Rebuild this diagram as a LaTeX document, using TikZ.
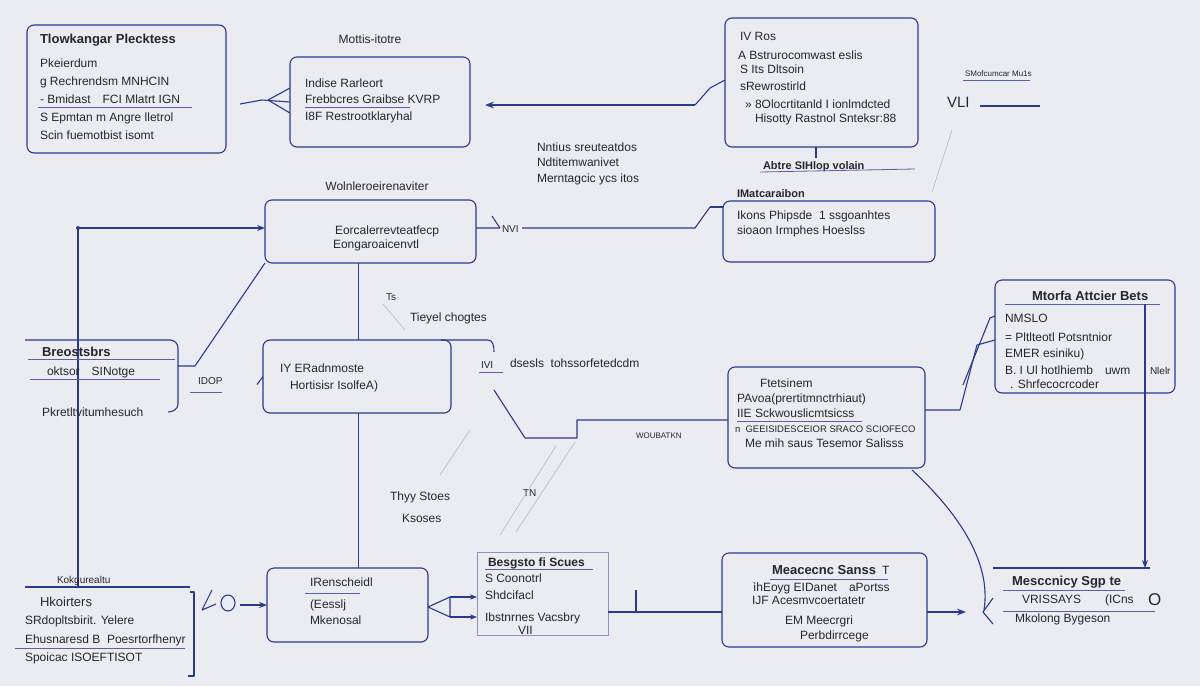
\documentclass[tikz,border=0pt]{standalone}
\usepackage{fontspec}
\setmainfont{Liberation Sans}
\usetikzlibrary{arrows.meta}
\definecolor{drawColor}{RGB}{42,58,140}
\definecolor{textColor}{RGB}{38,38,46}
\definecolor{paperColor}{RGB}{234,236,241}
\tikzset{
  box/.style={draw=drawColor,line width=1.1pt,rounded corners=7pt,inner sep=0pt,outer sep=0pt},
  sqbox/.style={draw=drawColor!55,line width=0.8pt,inner sep=0pt,outer sep=0pt},
  txt/.style={text=textColor,anchor=base west,inner sep=0pt,outer sep=0pt,font=\fontsize{12}{14}\selectfont},
  ctxt/.style={txt,anchor=base},
  small/.style={txt,font=\fontsize{10}{12}\selectfont},
  ttl/.style={txt,font=\bfseries\fontsize{13}{15}\selectfont},
  wire/.style={draw=drawColor,line width=1.1pt,line join=round},
  rule/.style={draw=drawColor!80,line width=0.8pt},
  faint/.style={draw=gray!55,line width=0.6pt},
}
\begin{document}
\begin{tikzpicture}[x=1pt,y=-1pt]
\path[use as bounding box,fill=paperColor] (0,0) rectangle (1200,686);

\node[box,minimum width=199pt,minimum height=128pt] (tlowBox) at (126.5,89) {};
\node[ttl] (tlowT) at (40,43) {Tlowkangar Plecktess};
\node[txt] (tlow1) at (40,67) {Pkeierdum};
\node[txt] (tlow2) at (40,85) {g Rechrendsm MNHCIN};
\node[txt] (tlow3) at (40,103) {- Bmidast\quad FCI Mlatrt IGN};
\node[txt] (tlow4) at (40,121) {S Epmtan m Angre lletrol};
\node[txt] (tlow5) at (40,139) {Scin fuemotbist isomt};
\path[rule] (38,107) -- (192,107);

\node[box,minimum width=180pt,minimum height=90pt] (mottBox) at (380,102) {};
\node[ctxt] (mottL) at (370,43) {Mottis-itotre};
\node[txt] (mott1) at (305,87) {Indise Rarleort};
\node[txt] (mott2) at (305,103) {Frebbcres Graibse KVRP};
\node[txt] (mott3) at (305,120) {I8F Restrootklaryhal};
\path[rule] (305,107) -- (410,107);
\coordinate (mottIn) at (240,104);
\path[wire] (mottIn) -- (262,100) -- (mottBox.west);
\path[wire] (268,100) -- (290,88) (268,100) -- (290,113);

\node[box,minimum width=193pt,minimum height=129pt] (absBox) at (821.5,82.5) {};
\node[txt] (abs1) at (740,40) {IV Ros};
\node[txt] (abs2) at (738,59) {A Bstrurocomwast eslis};
\node[txt] (abs3) at (740,73) {S Its Dltsoin};
\node[txt] (abs4) at (740,90) {sRewrostirld};
\node[txt] (abs5) at (745,108) {» 8Olocrtitanld I ionlmdcted};
\node[txt] (abs6) at (755,122) {Hisotty Rastnol Snteksr:88};
\node[ttl,font=\bfseries\fontsize{11}{13}\selectfont] (absL) at (763,169) {Abtre SIHlop volain};
\path[wire] (816,147) -- (816,158);
\path[rule] (760,172) -- (915,169);
\coordinate (absIn) at (695,105);
\coordinate (mottTip) at (485,105);
\path[wire,-{Stealth[length=9pt]}] (absIn) -- (mottTip);
\path[wire] (absIn) -- (710,88) -- (absBox.west |- 0,80);

\node[small,font=\fontsize{8}{10}\selectfont] (smof) at (965,76) {SMofcumcar Mu1s};
\path[rule] (963,80) -- (1030,80);
\node[txt,font=\fontsize{15}{17}\selectfont] (vli) at (947,107) {VLI};
\path[wire] (980,106) -- (1040,106);
\path[faint] (952,130) -- (932,192);

\node[txt] (nnt1) at (537,151) {Nntius sreuteatdos};
\node[txt] (nnt2) at (537,166) {Ndtitemwanivet};
\node[txt] (nnt3) at (537,182) {Merntagcic ycs itos};

\node[box,minimum width=211pt,minimum height=63pt] (wolnBox) at (370.5,231.5) {};
\node[ctxt] (wolnL) at (377,190) {Wolnleroeirenaviter};
\node[txt] (woln1) at (335,234) {Eorcalerrevteatfecp};
\node[txt] (woln2) at (333,248) {Eongaroaicenvtl};
\node[small] (nvi) at (502,232) {NVI};
\coordinate (wolnOut) at (695,228);
\path[wire] (wolnBox.east |- wolnOut) -- (500,228) (522,228) -- (wolnOut) -- (710,207);
\path[wire] (492,216) -- (500,228);

\node[box,minimum width=212pt,minimum height=61pt] (matcBox) at (829,231.5) {};
\node[ttl,font=\bfseries\fontsize{11}{13}\selectfont] (matcT) at (737,197) {IMatcaraibon};
\node[txt] (matc1) at (737,219) {Ikons Phipsde\ \ 1 ssgoanhtes};
\node[txt] (matc2) at (737,234) {sioaon Irmphes Hoeslss};
\path[wire] (710,207) -- (matcBox.west |- 0,207);

\coordinate (leftTop) at (78,228);
\coordinate (leftBot) at (78,588);
\path[wire,-{Stealth[length=8pt]}] (leftBot) -- (leftTop) -- (wolnBox.west |- leftTop);
\fill[drawColor] (leftTop) circle (2pt);

\node[ttl] (breoT) at (42,356) {Breostsbrs};
\node[txt] (breo1) at (47,375) {oktsor\quad SINotge};
\node[txt] (breo2) at (42,416) {Pkretltvitumhesuch};
\path[wire] (25,340) -- (170,340) to[out=0,in=90] (178,348) -- (178,404) to[out=-90,in=0] (168,412);
\path[rule] (28,359) -- (175,359);
\path[rule] (30,379) -- (160,379);
\coordinate (breoOut) at (195,366);
\path[wire] (178,366) -- (breoOut) -- (wolnBox.south west) ++(2,-6);
\node[small] (idop) at (198,384) {IDOP};
\path[rule] (190,392) -- (222,392);

\node[box,minimum width=188pt,minimum height=73pt] (radnBox) at (357,376.5) {};
\node[txt] (radn1) at (280,372) {IY ERadnmoste};
\node[txt] (radn2) at (290,389) {Hortisisr IsolfeA)};
\path[wire] (radnBox.north east) ++(-10,0) -- (488,340) to[out=0,in=90] (494,352);
\node[small] (ivi) at (481,368) {IVI};
\path[rule] (479,372) -- (503,372);
\node[txt] (dses) at (510,367) {dsesls\ \ tohssorfetedcdm};
\node[txt] (tiey) at (410,321) {Tieyel chogtes};
\node[small] (ts) at (386,300) {Ts};
\path[faint] (383,304) -- (405,330);
\path[wire] (radnBox.west) ++(-6,8) -- (radnBox.west);

\path[wire] (wolnBox.south) ++(-12,0) -- (radnBox.north -| 358.5,0);
\path[wire] (358.5,413) -- (358.5,568);

\node[box,minimum width=197pt,minimum height=101pt] (fetsBox) at (826.5,417.5) {};
\node[txt] (fets1) at (760,387) {Ftetsinem};
\node[txt] (fets2) at (737,402) {PAvoa(prertitmnctrhiaut)};
\node[txt] (fets3) at (737,417) {IIE Sckwouslicmtsicss};
\node[txt,font=\fontsize{9.5}{11}\selectfont] (fets4) at (735,432) {n\ \ GEEISIDESCEIOR SRACO SCIOFECO};
\node[txt] (fets5) at (745,447) {Me mih saus Tesemor Salisss};
\path[rule] (737,421) -- (862,421);
\node[small,font=\fontsize{8}{10}\selectfont] (woub) at (636,438) {WOUBATKN};
\coordinate (dsesOut) at (494,390);
\path[wire] (dsesOut) -- (525,438) -- (577,438) -- (577,420) -- (fetsBox.west |- 0,420);

\node[box,minimum width=180pt,minimum height=113pt] (mtorBox) at (1085,336.5) {};
\node[ttl] (mtorT) at (1032,300) {Mtorfa Attcier Bets};
\path[rule] (1005,304) -- (1160,304);
\node[txt] (mtor1) at (1005,322) {NMSLO};
\node[txt] (mtor2) at (1005,341) {= Pltlteotl Potsntnior};
\node[txt] (mtor3) at (1005,357) {EMER esiniku)};
\node[txt] (mtor4) at (1005,374) {B. I Ul hotlhiemb\quad uwm};
\node[small] (mtor5) at (1150,374) {Nlelr};
\node[txt] (mtor6) at (1010,388) {. Shrfecocrcoder};
\coordinate (fetsOut) at (960,410);
\path[wire] (fetsBox.east |- fetsOut) -- (fetsOut) -- (977,345) -- (mtorBox.west |- 0,340);
\path[wire] (963,385) -- (990,318) -- (mtorBox.west |- 0,316);

\node[small] (kokg) at (57,583) {Kokgurealtu};
\path[wire] (25,587) -- (190,587);
\node[txt,font=\fontsize{13}{15}\selectfont] (kok1) at (40,606) {Hkoirters};
\node[txt] (kok2) at (25,624) {SRdopltsbirit. Yelere};
\node[txt] (kok3) at (25,643) {Ehusnaresd B\ \ Poesrtorfhenyr};
\node[txt] (kok4) at (25,661) {Spoicac ISOEFTISOT};
\path[rule] (15,648) -- (185,648);
\path[wire] (190,592) -- (194,592) -- (194,676) -- (188,676);
\path[wire] (212,590) -- (202,610) -- (216,604);
\path[wire] (228,603) ellipse (7pt and 8pt);

\node[box,minimum width=161pt,minimum height=74pt] (rensBox) at (347.5,605) {};
\node[txt] (rens1) at (310,586) {IRenscheidl};
\node[txt] (rens2) at (310,608) {(Eesslj};
\node[txt] (rens3) at (310,624) {Mkenosal};
\path[rule] (305,593) -- (360,593);
\path[wire,-{Stealth[length=8pt]}] (240,605) -- (rensBox.west |- 0,605);

\node[sqbox,minimum width=131pt,minimum height=83pt] (besgBox) at (542.5,593.5) {};
\node[ttl,font=\bfseries\fontsize{12}{14}\selectfont] (besgT) at (488,566) {Besgsto fi Scues};
\path[rule] (485,569) -- (593,569);
\node[txt] (besg1) at (485,582) {S Coonotrl};
\node[txt] (besg2) at (485,599) {Shdcifacl};
\node[txt] (besg3) at (485,621) {Ibstnrnes Vacsbry};
\node[txt] (besg4) at (518,634) {VII};
\coordinate (rensOut) at (450,607);
\path[wire] (rensBox.east |- rensOut) -- (450,597) -- (450,617) -- cycle;
\path[wire,-{Stealth[length=7pt]}] (450,597) -- (besgBox.west |- 0,597);
\path[wire,-{Stealth[length=7pt]}] (450,617) -- (besgBox.west |- 0,617);

\node[box,minimum width=205pt,minimum height=94pt] (meacBox) at (824.5,600) {};
\node[ttl] (meacT) at (772,574) {Meacecnc Sanss};
\node[txt] (meacT2) at (882,574) {T};
\path[rule] (770,579) -- (888,579);
\node[txt] (meac1) at (753,591) {ìhEoyg EIDanet\quad aPortss};
\node[txt] (meac2) at (752,604) {IJF Acesmvcoertatetr};
\node[txt] (meac3) at (785,624) {EM Meecrgri};
\node[txt] (meac4) at (800,639) {Perbdirrcege};
\path[wire] (besgBox.east |- 0,612) -- (meacBox.west |- 0,612);
\path[wire] (636,590) -- (636,612);

\path[wire,-{Stealth[length=9pt]}] (meacBox.east |- 0,612) -- (966,612);
\path[wire] (912,470) .. controls (955,510) and (992,560) .. (984,610);
\path[wire] (993,598) -- (983,612) -- (993,624);

\path[wire] (993,568) -- (1150,568);
\path[wire,-{Stealth[length=8pt]}] (mtorBox.south -| 1145,0) -- (1145,568);
\path[wire] (1145,304) -- (1145,393);
\node[ttl] (mesT) at (1012,585) {Mesccnicy Sgp te};
\path[rule] (1003,590) -- (1125,590);
\node[txt] (mes1) at (1022,603) {VRISSAYS};
\node[txt] (mes2) at (1105,603) {(ICns};
\node[txt,font=\fontsize{17}{19}\selectfont] (mes3) at (1148,605) {O};
\path[rule] (1003,611) -- (1155,611);
\node[txt] (mes4) at (1015,622) {Mkolong Bygeson};

\node[txt] (thyy) at (390,500) {Thyy Stoes};
\node[txt] (ksos) at (402,522) {Ksoses};
\node[small] (tn) at (523,496) {TN};
\path[faint] (500,535) -- (556,446);
\path[faint] (516,532) -- (575,442);
\path[faint] (470,430) -- (440,475);
\end{tikzpicture}
\end{document}
